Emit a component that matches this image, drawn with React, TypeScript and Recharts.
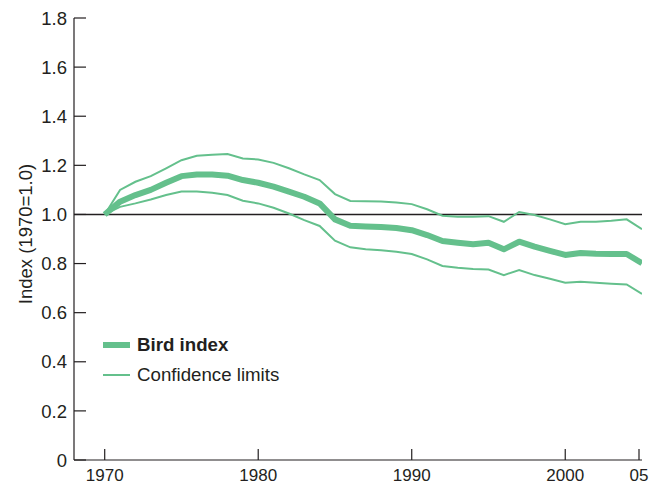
import React from "react";
import { LineChart, Line, XAxis, YAxis, ReferenceLine, Legend, Label } from "recharts";

const years = [1970, 1971, 1972, 1973, 1974, 1975, 1976, 1977, 1978, 1979, 1980, 1981, 1982, 1983, 1984, 1985, 1986, 1987, 1988, 1989, 1990, 1991, 1992, 1993, 1994, 1995, 1996, 1997, 1998, 1999, 2000, 2001, 2002, 2003, 2004, 2005];
const birdIndex = [1.0, 1.052, 1.079, 1.10, 1.129, 1.156, 1.163, 1.163, 1.158, 1.14, 1.129, 1.113, 1.093, 1.072, 1.045, 0.98, 0.954, 0.951, 0.949, 0.945, 0.936, 0.916, 0.892, 0.885, 0.879, 0.885, 0.858, 0.889, 0.869, 0.852, 0.835, 0.843, 0.84, 0.839, 0.839, 0.801];
const upperLimit = [1.0, 1.10, 1.133, 1.156, 1.188, 1.221, 1.239, 1.243, 1.246, 1.228, 1.224, 1.21, 1.188, 1.163, 1.14, 1.083, 1.055, 1.054, 1.053, 1.049, 1.042, 1.021, 0.995, 0.991, 0.991, 0.993, 0.97, 1.01, 0.998, 0.98, 0.96, 0.97, 0.97, 0.974, 0.98, 0.94];
const lowerLimit = [1.0, 1.031, 1.045, 1.061, 1.079, 1.093, 1.093, 1.088, 1.079, 1.056, 1.045, 1.027, 1.004, 0.977, 0.953, 0.893, 0.866, 0.858, 0.854, 0.848, 0.839, 0.817, 0.79, 0.783, 0.778, 0.776, 0.753, 0.774, 0.753, 0.738, 0.722, 0.726, 0.722, 0.718, 0.715, 0.676];
const xTicks = [1970, 1980, 1990, 2000, 2005];
const yTicks = [0, 0.2, 0.4, 0.6, 0.8, 1.0, 1.2, 1.4, 1.6, 1.8];

const data = years.map((y, i) => ({ year: y, bird: birdIndex[i], upper: upperLimit[i], lower: lowerLimit[i] }));

const GREEN = "#64c08c";
const INK = "#231f20";
const FONT = "'Liberation Sans', Arial, Helvetica, sans-serif";

const YTick = (props: any) => {
  const { x, y, payload } = props;
  const v = payload.value;
  const label = v === 0 ? "0" : v.toFixed(1);
  return (
    <g>
      <line x1={x} x2={x + 12} y1={y} y2={y} stroke={INK} strokeWidth={1.2} />
      <text x={x - 7} y={y} dy="0.36em" textAnchor="end" fontSize={18.5} fill={INK} fontFamily={FONT}>
        {label}
      </text>
    </g>
  );
};

const XTick = (props: any) => {
  const { x, y, payload } = props;
  const v = payload.value;
  const label = v === 2005 ? "05" : String(v);
  return (
    <g>
      <line x1={x} x2={x} y1={y} y2={y - 11} stroke={INK} strokeWidth={1.2} />
      <text x={x} y={y + 20.5} textAnchor="middle" fontSize={17} fill={INK} fontFamily={FONT}>
        {label}
      </text>
    </g>
  );
};

const LegendContent = () => (
  <div style={{ fontFamily: FONT, fontSize: 18.7, color: INK }}>
    <div style={{ display: "flex", alignItems: "center", height: 30 }}>
      <div style={{ width: 27, height: 6, background: GREEN, marginRight: 7 }} />
      <span style={{ fontWeight: "bold" }}>Bird index</span>
    </div>
    <div style={{ display: "flex", alignItems: "center", height: 30 }}>
      <div style={{ width: 27, height: 2, background: GREEN, marginRight: 7 }} />
      <span>Confidence limits</span>
    </div>
  </div>
);

export default function App() {
  return (
    <div style={{ position: "absolute", left: 0, top: 0, width: 655, height: 483, background: "#fff" }}>
      <LineChart width={655} height={483} data={data} margin={{ top: 18, right: 13, bottom: 0, left: 10 }}>
        <XAxis
          dataKey="year"
          type="number"
          domain={[1968, 2005]}
          ticks={xTicks}
          tick={<XTick />}
          tickSize={0}
          tickMargin={0}
          tickLine={false}
          height={23}
          axisLine={{ stroke: INK, strokeWidth: 1.2 }}
          allowDataOverflow
        />
        <YAxis
          type="number"
          domain={[0, 1.8]}
          ticks={yTicks}
          tick={<YTick />}
          tickSize={0}
          tickMargin={0}
          tickLine={false}
          width={64}
          axisLine={{ stroke: INK, strokeWidth: 1.2 }}
        >
          <Label
            content={(p: any) => {
              const vb = p.viewBox || { y: 18, height: 442 };
              const cy = vb.y + vb.height / 2 - 5;
              return (
                <text x={25} y={cy} transform={`rotate(-90 25 ${cy})`} textAnchor="middle" dy="0.36em" fontSize={18.5} fill={INK} fontFamily={FONT}>
                  Index (1970=1.0)
                </text>
              );
            }}
          />
        </YAxis>
        <ReferenceLine y={1.0} stroke={INK} strokeWidth={1.5} />
        <Line dataKey="upper" stroke={GREEN} strokeWidth={2} dot={false} isAnimationActive={false} legendType="none" />
        <Line dataKey="lower" stroke={GREEN} strokeWidth={2} dot={false} isAnimationActive={false} legendType="none" />
        <Line dataKey="bird" stroke={GREEN} strokeWidth={6} dot={false} isAnimationActive={false} strokeLinejoin="round" />
        <Legend
          layout="vertical"
          verticalAlign="middle"
          align="center"
          wrapperStyle={{ position: "absolute", left: 103, top: 330, width: 250, height: 60 }}
          content={<LegendContent />}
        />
      </LineChart>
    </div>
  );
}
